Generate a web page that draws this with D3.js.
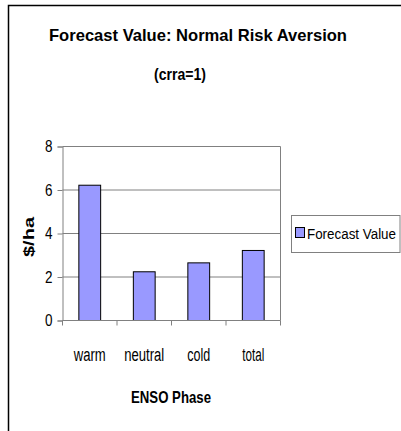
<!DOCTYPE html>
<html>
<head>
<meta charset="utf-8">
<script src="https://cdn.jsdelivr.net/npm/d3@7"></script>
<style>
  html, body { margin: 0; padding: 0; background: #fff; }
  svg { display: block; font-family: "Liberation Sans", Arial, sans-serif; }
</style>
</head>
<body>
<svg id="chart" width="401" height="431"></svg>
<script>
// ENSO phases and the forecast value for each ($/ha)
const phases = ["warm", "neutral", "cold", "total"];
const forecastValue = [6.22, 2.24, 2.65, 3.22];
const yTicks = [0, 2, 4, 6, 8];
const seriesName = "Forecast Value";

const svg = d3.select("#chart");

// condensed text helper: font size sets the height, textLength the width
function label(sel, txt, size, width, weight) {
  sel.text(txt).attr("font-size", size)
    .attr("font-weight", weight || "normal")
    .attr("textLength", width).attr("lengthAdjust", "spacingAndGlyphs");
  return sel;
}

// outer chart frame
svg.append("path")
  .attr("d", "M8.5,440 V5.5 H410")
  .attr("fill", "none").attr("stroke", "#000").attr("stroke-width", 1.5);

const plot = { left: 62.5, right: 280.5, top: 146.5, bottom: 320.5 };

const x = d3.scaleBand().domain(phases).range([plot.left, plot.right]).paddingInner(0.6).paddingOuter(0.3);
const xBand = d3.scaleBand().domain(phases).range([plot.left, plot.right]);
const y = d3.scaleLinear().domain([0, 8]).range([plot.bottom, plot.top]);

// gridlines
svg.append("g")
  .selectAll("line").data(yTicks.filter(d => d > 0)).join("line")
  .attr("x1", plot.left).attr("x2", plot.right)
  .attr("y1", d => y(d)).attr("y2", d => y(d))
  .attr("stroke", "#808080").attr("stroke-width", 1);

// plot area right edge
svg.append("line")
  .attr("x1", plot.right).attr("x2", plot.right)
  .attr("y1", plot.top).attr("y2", plot.bottom)
  .attr("stroke", "#808080");

// bars
svg.append("g")
  .selectAll("rect").data(phases).join("rect")
  .attr("x", d => x(d))
  .attr("width", x.bandwidth())
  .attr("y", (d, i) => y(forecastValue[i]))
  .attr("height", (d, i) => y(0) - y(forecastValue[i]))
  .attr("fill", "#9999ff").attr("stroke", "#000").attr("stroke-width", 1);

// y axis
const yAxis = svg.append("g")
  .attr("transform", `translate(${plot.left},0)`)
  .call(d3.axisLeft(y).tickValues(yTicks).tickSize(5).tickPadding(5));
yAxis.select(".domain").attr("stroke", "#808080");
yAxis.selectAll(".tick line").attr("stroke", "#808080");
yAxis.selectAll(".tick text")
  .attr("font-size", 16).attr("fill", "#000")
  .attr("font-family", "Liberation Sans, Arial, sans-serif")
  .attr("textLength", 7.5).attr("lengthAdjust", "spacingAndGlyphs");

// x axis: ticks between categories
const xAxisG = svg.append("g").attr("transform", `translate(0,${plot.bottom})`);
xAxisG.append("line").attr("x1", plot.left).attr("x2", plot.right)
  .attr("stroke", "#808080");
const bounds = phases.map(p => xBand(p)).concat([plot.right]);
xAxisG.selectAll("line.tk").data(bounds).join("line").attr("class", "tk")
  .attr("x1", d => d).attr("x2", d => d).attr("y1", 0).attr("y2", 5)
  .attr("stroke", "#808080");
const catWidths = [32, 40, 23, 22];
xAxisG.selectAll("text").data(phases).join("text")
  .attr("x", d => xBand(d) + xBand.bandwidth() / 2)
  .attr("y", 40.5)
  .attr("text-anchor", "middle")
  .each(function (d, i) { label(d3.select(this), d, 18, catWidths[i]); });

// axis titles
label(svg.append("text").attr("x", 171).attr("y", 403).attr("text-anchor", "middle"),
  "ENSO Phase", 16.5, 80, "bold");
label(svg.append("text").attr("transform", "translate(34,237) rotate(-90)").attr("text-anchor", "middle"),
  "$/ha", 15.5, 40, "bold");

// title
label(svg.append("text").attr("x", 198).attr("y", 41).attr("text-anchor", "middle"),
  "Forecast Value: Normal Risk Aversion", 16.5, 298, "bold");
label(svg.append("text").attr("x", 180).attr("y", 80).attr("text-anchor", "middle"),
  "(crra=1)", 17, 52, "bold");

// legend
const lg = svg.append("g");
lg.append("rect").attr("x", 291.5).attr("y", 215.5).attr("width", 108.5).attr("height", 37)
  .attr("fill", "#fff").attr("stroke", "#808080");
lg.append("rect").attr("x", 295.5).attr("y", 227.5).attr("width", 9).attr("height", 10)
  .attr("fill", "#9999ff").attr("stroke", "#000");
label(lg.append("text").attr("x", 307).attr("y", 238.5), seriesName, 14, 89);
</script>
</body>
</html>
